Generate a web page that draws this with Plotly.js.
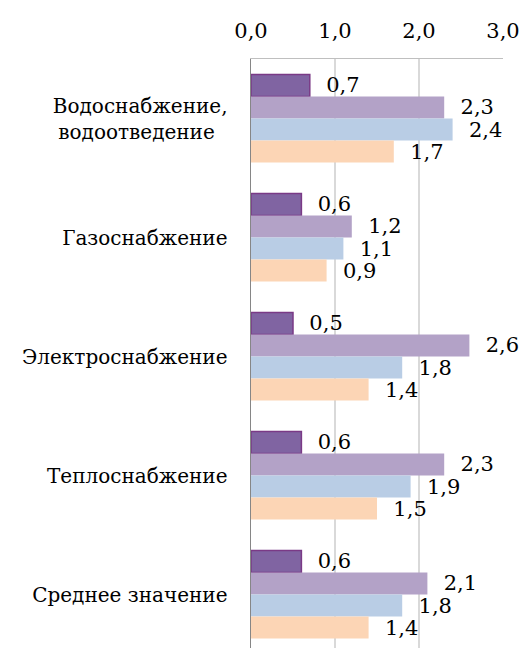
<!DOCTYPE html>
<html>
<head>
<meta charset="utf-8">
<script src="https://cdn.plot.ly/plotly-3.0.1.min.js"></script>
<style>
html, body { margin: 0; padding: 0; overflow: hidden; background: #fff; }
#chart { width: 521px; height: 660px; }
</style>
</head>
<body>
<div id="chart"></div>
<script>
const categories = [
  "Водоснабжение,<br>водоотведение\u00a0\u00a0",
  "Газоснабжение",
  "Электроснабжение",
  "Теплоснабжение",
  "Среднее значение"
];
const series1 = [0.7, 0.6, 0.5, 0.6, 0.6];
const series2 = [2.3, 1.2, 2.6, 2.3, 2.1];
const series3 = [2.4, 1.1, 1.8, 1.9, 1.8];
const series4 = [1.7, 0.9, 1.4, 1.5, 1.4];
const xTickVals = [0, 1, 2, 3];
const xTickText = ["0,0", "1,0", "2,0", "3,0"];

const fmt = v => "\u00a0\u00a0" + v.toFixed(1).replace(".", ",");
const fontFam = "DejaVu Serif";

function mk(vals, fill, line, lw) {
  return {
    type: "bar",
    orientation: "h",
    y: categories,
    x: vals,
    text: vals.map(fmt),
    textposition: "outside",
    constraintext: "none",
    cliponaxis: false,
    textfont: { family: fontFam, size: 21, color: "#000" },
    marker: { color: fill, line: { color: line, width: lw } },
    hoverinfo: "none"
  };
}

const data = [
  mk(series1, "#8064A2", "#7A3A86", 1.5),
  mk(series2, "#B3A2C7", "#B3A2C7", 0),
  mk(series3, "#B9CDE5", "#B9CDE5", 0),
  mk(series4, "#FCD5B5", "#FCD5B5", 0)
];

const layout = {
  width: 521,
  height: 660,
  margin: { l: 251, r: 18, t: 59, b: 6 },
  paper_bgcolor: "#fff",
  plot_bgcolor: "#fff",
  showlegend: false,
  barmode: "group",
  bargap: 0.26,
  bargroupgap: 0,
  font: { family: fontFam, size: 21, color: "#000" },
  xaxis: {
    side: "top",
    range: [0, 3],
    tickvals: xTickVals,
    ticktext: xTickText,
    showgrid: true,
    gridcolor: "#D9D9D9",
    gridwidth: 1.5,
    zeroline: false,
    showline: true,
    linecolor: "#BFBFBF",
    linewidth: 1.5,
    ticks: "",
    ticklabelstandoff: 11,
    ticklabeloverflow: "allow",
    tickfont: { family: fontFam, size: 21, color: "#000" },
    fixedrange: true
  },
  yaxis: {
    type: "category",
    autorange: "reversed",
    showgrid: false,
    zeroline: false,
    showline: true,
    linecolor: "#868686",
    linewidth: 1.5,
    ticks: "",
    ticklabelstandoff: 18,
    tickfont: { family: fontFam, size: 20, color: "#000" },
    fixedrange: true
  }
};

Plotly.newPlot("chart", data, layout, { displayModeBar: false, staticPlot: true });
</script>
</body>
</html>
